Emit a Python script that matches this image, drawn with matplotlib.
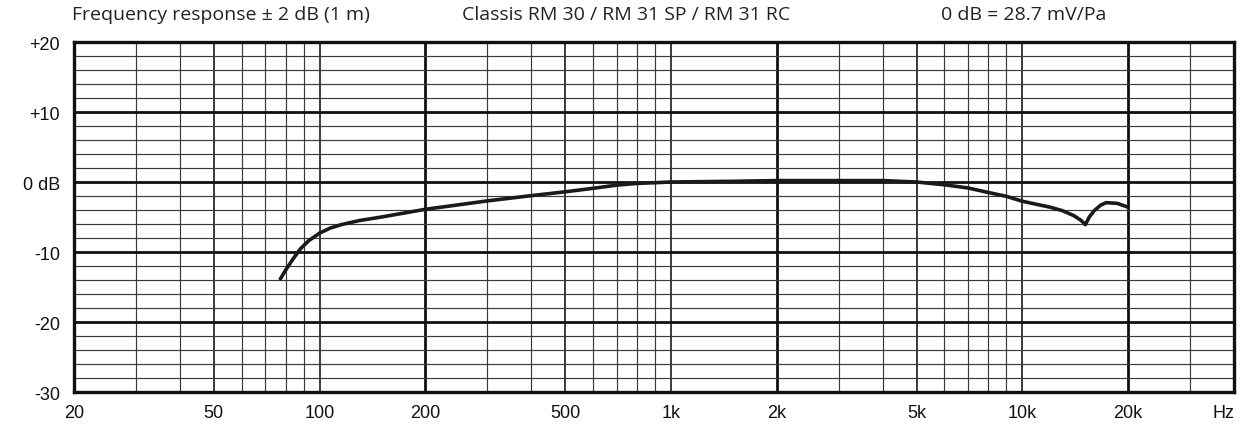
import matplotlib
matplotlib.use("Agg")
import matplotlib.pyplot as plt
from matplotlib.ticker import FixedLocator, NullLocator

# ---- data ----
freq_hz = [77, 80, 84, 88, 93, 100, 107, 115, 130, 150, 200, 300, 400, 500, 600,
           700, 800, 900, 1000, 1500, 2000, 3000, 4000, 5000, 6000, 7000, 8000,
           9000, 10000, 11000, 12000, 13000, 14000, 14700, 15100, 15500, 16000,
           16700, 17300, 18600, 20000]
level_db = [-14.0, -12.6, -11.0, -9.6, -8.4, -7.3, -6.6, -6.1, -5.5, -5.0, -3.9,
            -2.7, -1.95, -1.4, -0.9, -0.45, -0.2, -0.1, 0.0, 0.1, 0.2, 0.2, 0.2,
            0.0, -0.4, -0.85, -1.5, -2.05, -2.75, -3.2, -3.6, -4.1, -4.8, -5.5,
            -6.1, -5.0, -4.1, -3.3, -2.95, -3.05, -3.6]

x_ticks = [20, 50, 100, 200, 500, 1000, 2000, 5000, 10000, 20000]
x_tick_labels = ["20", "50", "100", "200", "500", "1k", "2k", "5k", "10k", "20k"]
y_ticks = [20, 10, 0, -10, -20, -30]
y_tick_labels = ["+20", "+10", "0 dB", "-10", "-20", "-30"]

grid_thin_freqs = [30, 40, 60, 70, 80, 90, 300, 400, 600, 700, 800, 900,
                   3000, 4000, 6000, 7000, 8000, 9000, 30000]
grid_mid_freqs = [50, 100, 500, 1000, 5000, 10000]
grid_thick_freqs = [200, 2000, 20000]
grid_minor_db = [18, 16, 14, 12, 8, 6, 4, 2, -2, -4, -6, -8, -12, -14, -16, -18,
                 -22, -24, -26, -28]
grid_major_db = [10, 0, -10, -20]

title_left = "Frequency response \u00b1 2 dB (1 m)"
title_mid = "Classis RM 30 / RM 31 SP / RM 31 RC"
title_right = "0 dB = 28.7 mV/Pa"

# ---- figure ----
fig = plt.figure(figsize=(12.43, 4.31), dpi=100)
ax = fig.add_axes([74 / 1243, 1 - 393 / 431, (1234 - 74) / 1243, (393 - 43) / 431])
ax.set_xscale("log")
ax.set_xlim(20, 40000)
ax.set_ylim(-30, 20)

gcol = "#3a3a3a"
for f in grid_thin_freqs:
    ax.axvline(f, color=gcol, lw=0.85, zorder=1)
for f in grid_mid_freqs:
    ax.axvline(f, color="#1a1a1a", lw=1.2, zorder=1)
for f in grid_thick_freqs:
    ax.axvline(f, color="#111111", lw=2.0, zorder=1)
for d in grid_minor_db:
    ax.axhline(d, color=gcol, lw=0.85, zorder=1)
for d in grid_major_db:
    ax.axhline(d, color="#111111", lw=2.0, zorder=1)

ax.plot(freq_hz, level_db, color="#1a1a1a", lw=2.6, solid_capstyle="butt",
        solid_joinstyle="round", zorder=3)

for s in ax.spines.values():
    s.set_linewidth(2.4)
    s.set_color("#111111")
    s.set_zorder(4)

ax.xaxis.set_major_locator(FixedLocator(x_ticks))
ax.xaxis.set_minor_locator(NullLocator())
ax.set_xticklabels(x_tick_labels)
ax.yaxis.set_major_locator(FixedLocator(y_ticks))
ax.set_yticklabels(y_tick_labels)
ax.tick_params(axis="both", length=0, labelsize=13, colors="#111111")
ax.tick_params(axis="x", pad=9)
ax.tick_params(axis="y", pad=10)
for lab in ax.get_xticklabels() + ax.get_yticklabels():
    lab.set_fontfamily("Liberation Sans")

ax.text(1.0, -0.06, "Hz", transform=ax.transAxes, ha="right", va="center",
        fontsize=13, family="Liberation Sans", color="#111111")

tkw = dict(fontsize=14, family="Open Sans", color="#222222", va="center")
fig.text(72 / 1243, 1 - 15 / 431, title_left, ha="left", **tkw)
fig.text(626 / 1243, 1 - 15 / 431, title_mid, ha="center", **tkw)
fig.text(1106 / 1243, 1 - 15 / 431, title_right, ha="right", **tkw)

fig.savefig("out.png", dpi=100)
